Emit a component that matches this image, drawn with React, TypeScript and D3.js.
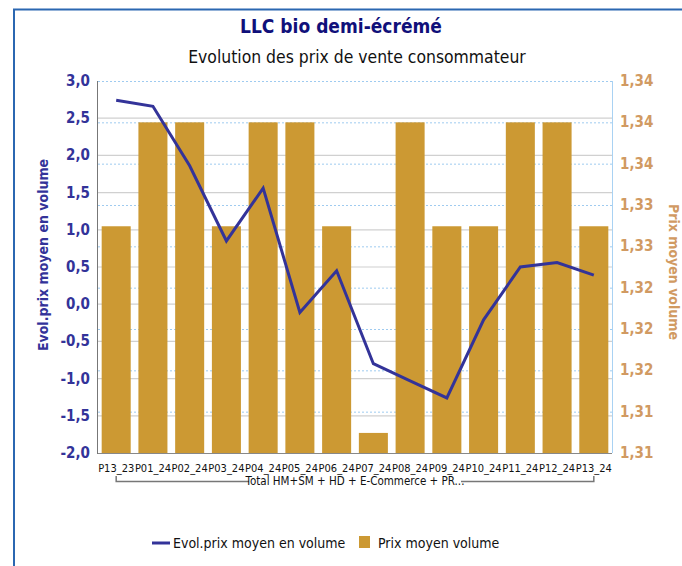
import React, { useEffect, useRef } from "react";
import { select, scaleLinear, scaleBand, line } from "d3";

const periods = [
  "P13_23", "P01_24", "P02_24", "P03_24", "P04_24", "P05_24", "P06_24",
  "P07_24", "P08_24", "P09_24", "P10_24", "P11_24", "P12_24", "P13_24",
];
// Evol.prix moyen en volume (left axis)
const evolPrix = [2.74, 2.66, 1.86, 0.85, 1.56, -0.11, 0.45, -0.8, -1.03, -1.26, -0.21, 0.5, 0.56, 0.39];
// Prix moyen volume (right axis)
const prixMoyen = [
  1.3298, 1.3386, 1.3386, 1.3298, 1.3386, 1.3386, 1.3298,
  1.3123, 1.3386, 1.3298, 1.3298, 1.3386, 1.3386, 1.3298,
];
const leftTicks = [-2, -1.5, -1, -0.5, 0, 0.5, 1, 1.5, 2, 2.5, 3];
const rightTicks = [1.3106, 1.3141, 1.3176, 1.3211, 1.3246, 1.3281, 1.3316, 1.3351, 1.3386, 1.3421];

const BLUE = "#333399";
const GOLD = "#cc9933";
const TAN = "#d19a62";
const FONT = "'DejaVu Sans Condensed', 'DejaVu Sans', sans-serif";

const App = () => {
  const ref = useRef(null);

  useEffect(() => {
    const svg = select(ref.current);
    svg.selectAll("*").remove();

    const margin = { top: 81, right: 70, bottom: 113, left: 98 };
    const width = 682;
    const height = 566;
    const innerBottom = height - margin.bottom;
    const innerRight = width - margin.right;

    const x = scaleBand().domain(periods).range([margin.left, innerRight]).paddingInner(0.21).paddingOuter(0.1);
    const yL = scaleLinear().domain([-2, 3]).range([innerBottom, margin.top]);
    const yR = scaleLinear().domain([rightTicks[0], rightTicks[rightTicks.length - 1]]).range([innerBottom, margin.top]);

    // outer frame
    svg.append("path")
      .attr("d", `M14,${height} L14,9.5 L${width},9.5`)
      .attr("fill", "none")
      .attr("stroke", "#2b67b1")
      .attr("stroke-width", 2);

    // titles
    svg.append("text")
      .attr("x", 341).attr("y", 33)
      .attr("text-anchor", "middle")
      .attr("font-family", FONT).attr("font-weight", "bold").attr("font-size", 19)
      .attr("fill", "#10107a")
      .text("LLC bio demi-écrémé");
    svg.append("text")
      .attr("x", 357).attr("y", 63)
      .attr("text-anchor", "middle")
      .attr("font-family", FONT).attr("font-size", 17.4)
      .attr("fill", "#111")
      .text("Evolution des prix de vente consommateur");

    // grid lines
    const g = svg.append("g");
    g.selectAll(".gl").data(leftTicks.slice(1, -1)).join("line")
      .attr("x1", margin.left).attr("x2", innerRight)
      .attr("y1", (d) => yL(d)).attr("y2", (d) => yL(d))
      .attr("stroke", "#d0d0d0").attr("stroke-width", 1.2);
    g.selectAll(".gr").data(rightTicks.slice(1)).join("line")
      .attr("x1", margin.left).attr("x2", innerRight)
      .attr("y1", (d) => yR(d) + 0.5).attr("y2", (d) => yR(d) + 0.5)
      .attr("stroke", "#9fcbf0").attr("stroke-dasharray", "2,2");

    // bars
    g.selectAll("rect").data(prixMoyen).join("rect")
      .attr("x", (d, i) => x(periods[i]))
      .attr("width", x.bandwidth())
      .attr("y", (d) => yR(d))
      .attr("height", (d) => innerBottom - yR(d))
      .attr("fill", GOLD);

    // frame
    g.append("line").attr("x1", innerRight + 0.5).attr("x2", innerRight + 0.5)
      .attr("y1", margin.top).attr("y2", innerBottom).attr("stroke", "#a9d2f3");
    g.append("line").attr("x1", margin.left - 0.5).attr("x2", margin.left - 0.5)
      .attr("y1", margin.top).attr("y2", innerBottom + 1).attr("stroke", "#777");
    g.append("line").attr("x1", margin.left).attr("x2", innerRight)
      .attr("y1", innerBottom + 0.5).attr("y2", innerBottom + 0.5).attr("stroke", "#888");

    // evol line
    const evolLine = line()
      .x((d, i) => x(periods[i]) + x.bandwidth() / 2)
      .y((d) => yL(d));
    g.append("path")
      .attr("d", evolLine(evolPrix))
      .attr("fill", "none")
      .attr("stroke", BLUE)
      .attr("stroke-width", 3);

    // left axis labels
    g.selectAll(".tl").data(leftTicks).join("text")
      .attr("x", 90).attr("y", (d) => yL(d) + 5)
      .attr("text-anchor", "end")
      .attr("font-family", FONT).attr("font-weight", "bold").attr("font-size", 15)
      .attr("fill", BLUE)
      .text((d) => d.toFixed(1).replace(".", ","));

    // right axis labels
    g.selectAll(".tr").data(rightTicks).join("text")
      .attr("x", 620).attr("y", (d) => yR(d) + 5)
      .attr("font-family", FONT).attr("font-weight", "bold").attr("font-size", 15)
      .attr("fill", TAN)
      .text((d) => d.toFixed(2).replace(".", ","));

    // axis titles
    svg.append("text")
      .attr("transform", `translate(48,255) rotate(-90)`)
      .attr("text-anchor", "middle")
      .attr("font-family", FONT).attr("font-weight", "bold").attr("font-size", 14)
      .attr("fill", BLUE)
      .text("Evol.prix moyen en volume");
    svg.append("text")
      .attr("transform", `translate(669,272) rotate(90)`)
      .attr("text-anchor", "middle")
      .attr("font-family", FONT).attr("font-weight", "bold").attr("font-size", 14)
      .attr("fill", TAN)
      .text("Prix moyen volume");

    // x labels
    g.selectAll(".xl").data(periods).join("text")
      .attr("x", (d) => x(d) + x.bandwidth() / 2)
      .attr("y", 472)
      .attr("text-anchor", "middle")
      .attr("font-family", FONT).attr("font-size", 11)
      .attr("fill", "#111")
      .text((d) => d);

    // group bracket
    const bx0 = x(periods[0]) + x.bandwidth() / 2;
    const bx1 = x(periods[periods.length - 1]) + x.bandwidth() / 2;
    const groupLabel = "Total HM+SM + HD + E-Commerce + PR...";
    const mid = (bx0 + bx1) / 2;
    g.append("path")
      .attr("d", `M${bx0},476 V481.5 H${mid - 106} M${mid + 106},481.5 H${bx1} V476`)
      .attr("fill", "none").attr("stroke", "#777").attr("stroke-width", 1.5);
    g.append("text")
      .attr("x", mid).attr("y", 485)
      .attr("text-anchor", "middle")
      .attr("font-family", FONT).attr("font-size", 11.5)
      .attr("fill", "#111")
      .text(groupLabel);

    // legend
    const lg = svg.append("g").attr("font-family", FONT).attr("font-size", 14).attr("fill", "#111");
    lg.append("line").attr("x1", 152).attr("x2", 170).attr("y1", 543).attr("y2", 543)
      .attr("stroke", BLUE).attr("stroke-width", 3);
    lg.append("text").attr("x", 173).attr("y", 548).text("Evol.prix moyen en volume");
    lg.append("rect").attr("x", 359).attr("y", 536).attr("width", 11).attr("height", 12).attr("fill", GOLD);
    lg.append("text").attr("x", 378).attr("y", 548).text("Prix moyen volume");
  });

  return (
    <svg
      ref={ref}
      width="682"
      height="566"
      style={{ position: "absolute", left: 0, top: 0, background: "#fff" }}
    ></svg>
  );
};

export default App;
